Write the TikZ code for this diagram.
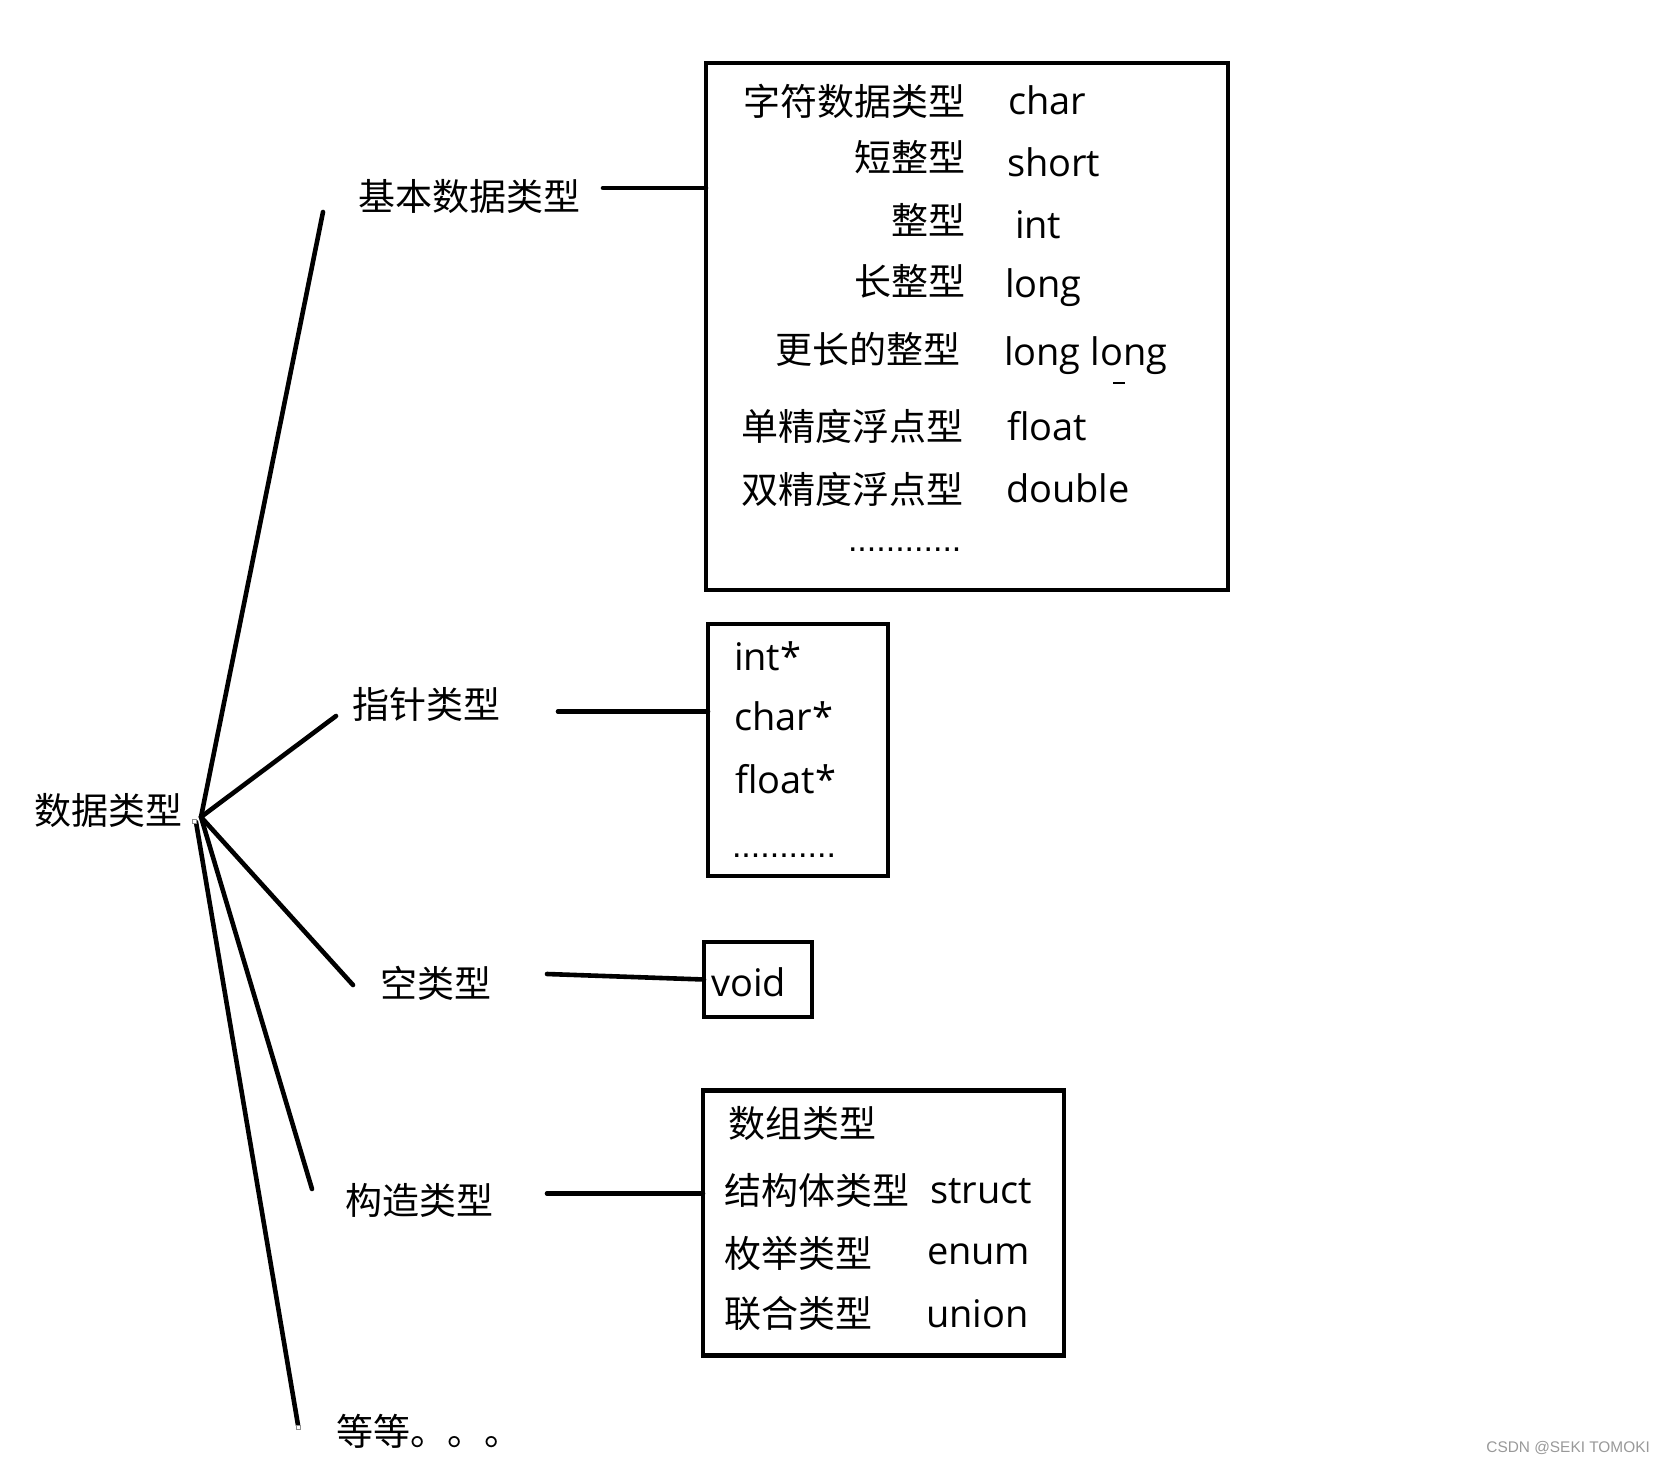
\documentclass[tikz,border=0pt]{standalone}
\usepackage{fontspec}
\setmainfont{Open Sans}
\newfontfamily\cjkf{Noto Sans CJK SC}
\newfontfamily\wmf{Liberation Sans}
\begin{document}
\begin{tikzpicture}[x=1pt,y=-1pt,
  conn/.style={line width=4.6pt, line cap=round},
  box/.style={draw, line width=4.6pt, inner sep=0pt, outer sep=0pt},
  cjk/.style={inner sep=0pt, outer sep=0pt, font=\cjkf\fontsize{37}{37}\selectfont},
  lat/.style={inner sep=0pt, outer sep=0pt, font=\fontsize{38}{38}\selectfont},
  dotrow/.style={inner sep=0pt, outer sep=0pt, font=\wmf\fontsize{34}{34}\selectfont},
  handle/.style={draw=black!45, line width=0.8pt, fill=white}
]
\useasboundingbox[fill=white] (0,0) rectangle (1664,1463);

% boxes
\node[box, minimum width=522pt, minimum height=527pt] (boxA) at (967,326.5) {};
\node[box, minimum width=180pt, minimum height=252pt] (boxB) at (798,750) {};
\node[box, minimum width=108pt, minimum height=75pt] (boxC) at (758,979.5) {};
\node[box, minimum width=361pt, minimum height=265pt] (boxD) at (883.5,1223) {};

% labels
\node[cjk, anchor=base west] (root) at (34,824) {数据类型};
\node[cjk, anchor=base west] (basic) at (358,211) {基本数据类型};
\node[cjk, anchor=base west] (ptr) at (352,718) {指针类型};
\node[cjk, anchor=base west] (void) at (380,997) {空类型};
\node[cjk, anchor=base west] (cons) at (345,1214) {构造类型};
\node[cjk, anchor=base west] (etc) at (336,1445) {等等。。。};

% hub and tree lines
\coordinate (hub) at (201,817);
\coordinate (hub2) at (196,822);
\coordinate (e1) at (323,212);
\coordinate (e2) at (336,716);
\coordinate (e3) at (353,985);
\coordinate (e4) at (312,1189);
\coordinate (e5) at (298,1425);
\draw[conn] (hub) -- (e1);
\draw[conn] (hub) -- (e2);
\draw[conn] (hub) -- (e3);
\draw[conn] (hub) -- (e4);
\draw[conn] (hub2) -- (e5);
\node[handle, minimum size=4pt, inner sep=0pt] (h1) at (194,821) {};
\node[handle, minimum size=4pt, inner sep=0pt] (h2) at (298,1427) {};

% connectors to boxes
\coordinate (bb) at (603,188);
\draw[conn] (bb) -- (bb -| boxA.west);
\coordinate (pb) at (558,711.5);
\draw[conn] (pb) -- (pb -| boxB.west);
\coordinate (vb) at (547,974);
\draw[conn] (vb) -- (boxC.west);
\coordinate (cb) at (547,1193.5);
\draw[conn] (cb) -- (cb -| boxD.west);

% box A contents
\node[cjk, anchor=base east] (a1) at (965,116) {字符数据类型};
\node[cjk, anchor=base east] (a2) at (965,172) {短整型};
\node[cjk, anchor=base east] (a3) at (965,235) {整型};
\node[cjk, anchor=base east] (a4) at (965,295) {长整型};
\node[cjk, anchor=base east] (a5) at (960,363) {更长的整型};
\node[cjk, anchor=base east] (a6) at (963,440) {单精度浮点型};
\node[cjk, anchor=base east] (a7) at (963,503) {双精度浮点型};
\node[lat, anchor=base west] (b1) at (1008,115) {char};
\node[lat, anchor=base west] (b2) at (1007,177) {short};
\node[lat, anchor=base west] (b3) at (1015,239) {int};
\node[lat, anchor=base west] (b4) at (1005,298) {long};
\node[lat, anchor=base west] (b5) at (1004,365) {long long};
\node[lat, anchor=base west] (b6) at (1007,440) {float};
\node[lat, anchor=base west] (b7) at (1006,502) {double};
\node[dotrow, anchor=base west] (adots) at (848,551) {............};
\draw[line width=1.8pt] (1113,383) -- (1125,383);

% box B contents
\node[lat, anchor=base west] (p1) at (734,670) {int*};
\node[lat, anchor=base west] (p2) at (734,730) {char*};
\node[lat, anchor=base west] (p3) at (735,793) {float*};
\node[dotrow, anchor=base west] (pdots) at (732,857) {...........};

% box C contents
\node[lat, anchor=base west] (v1) at (711,996) {void};

% box D contents
\node[cjk, anchor=base west] (d1) at (728,1137) {数组类型};
\node[cjk, anchor=base west] (d2) at (724,1204) {结构体类型};
\node[cjk, anchor=base west] (d3) at (724,1267) {枚举类型};
\node[cjk, anchor=base west] (d4) at (724,1327) {联合类型};
\node[lat, anchor=base west] (s1) at (930,1203) {struct};
\node[lat, anchor=base west] (s2) at (927,1264) {enum};
\node[lat, anchor=base west] (s3) at (926,1327) {union};

% watermark
\node[inner sep=0pt, anchor=base east, text=black!40, font=\wmf\fontsize{15.4}{15.4}\selectfont] (wm) at (1650,1452) {CSDN @SEKI TOMOKI};
\end{tikzpicture}
\end{document}
